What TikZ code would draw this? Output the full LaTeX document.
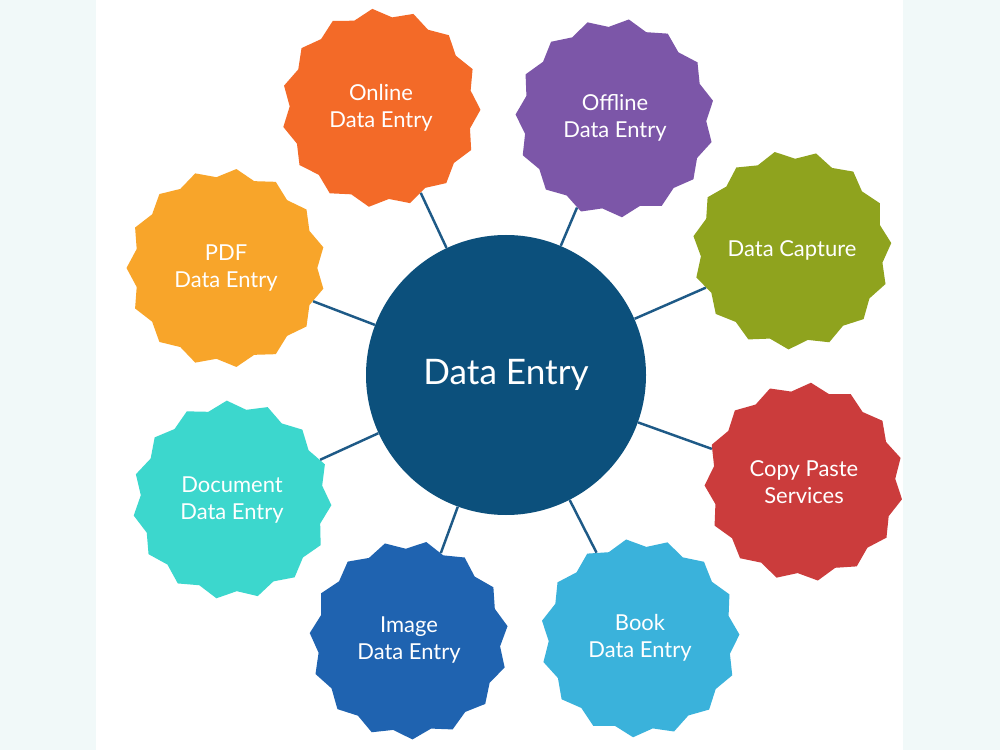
\documentclass[tikz,border=0pt]{standalone}
\usepackage{tikz}
\usepackage{fontspec}
\setmainfont{Lato}
\definecolor{pagebg}{RGB}{241, 249, 249}
\definecolor{hubblue}{RGB}{12, 80, 124}
\definecolor{linkblue}{RGB}{30, 90, 135}
\definecolor{online}{RGB}{243, 106, 40}
\definecolor{offline}{RGB}{124, 86, 168}
\definecolor{capture}{RGB}{143, 163, 30}
\definecolor{copypaste}{RGB}{203, 60, 60}
\definecolor{book}{RGB}{58, 178, 219}
\definecolor{image}{RGB}{31, 99, 176}
\definecolor{document}{RGB}{60, 215, 205}
\definecolor{pdf}{RGB}{248, 165, 42}
\usetikzlibrary{shapes.geometric, arrows.meta, positioning, calc}

\begin{document}
\begin{tikzpicture}[
    burst/.style={star, star points=15, star point ratio=1.09, fill=#1,
                  draw=none, inner sep=0pt, minimum size=3.98cm,
                  text=white, align=center, font=\fontsize{12.5}{15.5}\selectfont},
    link/.style={draw=linkblue, line width=1.4pt}
]
    \useasboundingbox (0,0) rectangle (20,15);
    \fill[pagebg] (0,0) rectangle (20,15);
    \fill[white] (1.92,0) rectangle (18.06,15);

    \node[circle, fill=hubblue, minimum size=5.6cm, text=white,
          font=\fontsize{20}{24}\selectfont] (hub) at (10.12,7.5) {Data Entry};

    \node[burst=online, shape border rotate=5] (onl) at (7.62,12.84) {Online\\Data Entry};
    \node[burst=offline, shape border rotate=-8] (off) at (12.30,12.64) {Offline\\Data Entry};
    \node[burst=capture, shape border rotate=10] (cap) at (15.84,10.0) {Data Capture};
    \node[burst=copypaste, shape border rotate=-4] (cps) at (16.08,5.36) {Copy Paste\\Services};
    \node[burst=book, shape border rotate=8] (bok) at (12.80,2.24) {Book\\Data Entry};
    \node[burst=image, shape border rotate=-10] (img) at (8.18,2.2) {Image\\Data Entry};
    \node[burst=document, shape border rotate=3] (doc) at (4.64,5.0) {Document\\Data Entry};
    \node[burst=pdf, shape border rotate=-6] (pdf) at (4.52,9.64) {PDF\\Data Entry};

    \draw[link] (hub) -- (onl);
    \draw[link] (hub) -- (off);
    \draw[link] (hub) -- (cap);
    \draw[link] (hub) -- (cps);
    \draw[link] (hub) -- (bok);
    \draw[link] (hub) -- (img);
    \draw[link] (hub) -- (doc);
    \draw[link] (hub) -- (pdf);
\end{tikzpicture}
\end{document}
